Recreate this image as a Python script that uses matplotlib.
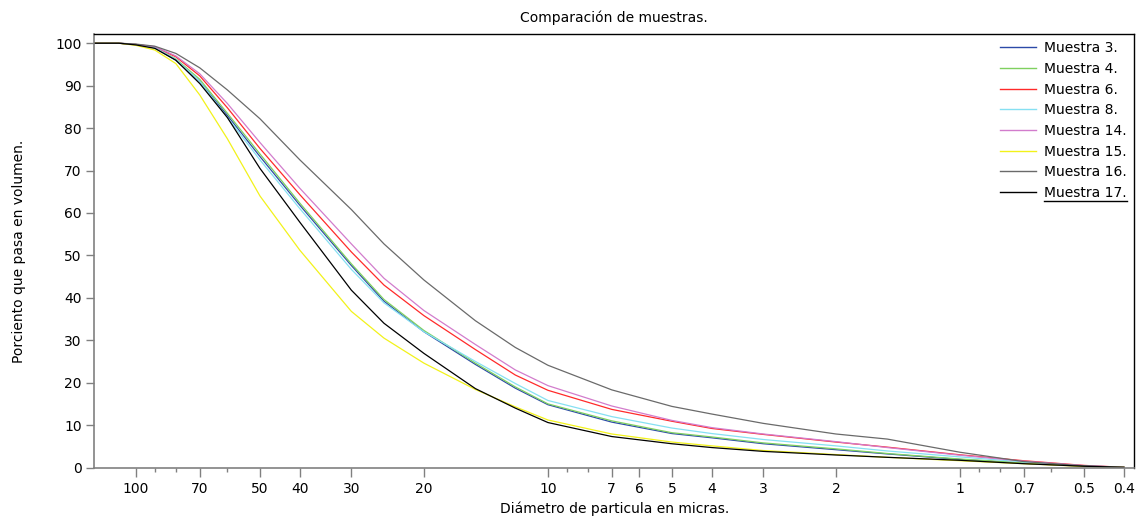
import matplotlib
matplotlib.use("Agg")
import matplotlib.pyplot as plt
from matplotlib.ticker import FixedLocator, FixedFormatter, NullFormatter
from matplotlib.lines import Line2D

plt.rcParams['font.family'] = ['DejaVu Sans']

# Particle diameter (microns), descending
diametro = [126, 110, 100, 90, 80, 70, 60, 50, 40, 30, 25, 20, 15, 12, 10,
            7, 5, 4, 3, 2, 1.5, 1, 0.7, 0.5, 0.4]

# Cumulative percent passing for each sample
muestra_3 = [100, 100, 99.7, 98.9, 96.0, 91.0, 83.0, 73.3, 61.8, 47.6, 39.2, 32.0, 24.3, 18.7, 14.8,
             10.7, 8.0, 7.0, 5.6, 4.2, 3.2, 1.9, 1.0, 0.3, 0.05]
muestra_4 = [100, 100, 99.7, 99.0, 96.3, 91.5, 83.5, 73.9, 62.3, 48.0, 39.6, 32.3, 24.6, 19.0, 15.0,
             11.0, 8.2, 7.2, 5.8, 4.4, 3.3, 2.0, 1.1, 0.35, 0.05]
muestra_6 = [100, 100, 99.7, 99.1, 96.8, 92.3, 84.8, 75.2, 64.3, 50.8, 43.0, 35.8, 27.8, 21.8, 18.2,
             13.7, 10.9, 9.2, 7.8, 6.0, 4.8, 3.0, 1.6, 0.5, 0.05]
muestra_8 = [100, 100, 99.7, 99.0, 96.2, 91.0, 82.5, 72.5, 61.0, 46.7, 38.8, 32.0, 25.0, 19.8, 15.8,
             12.0, 9.3, 8.0, 6.6, 5.1, 3.9, 2.5, 1.3, 0.4, 0.05]
muestra_14 = [100, 100, 99.7, 99.2, 97.0, 92.8, 85.8, 76.6, 65.8, 52.7, 44.6, 37.0, 29.0, 23.0, 19.3,
              14.5, 11.1, 9.4, 7.9, 6.1, 4.7, 2.9, 1.5, 0.45, 0.05]
muestra_15 = [100, 100, 99.5, 98.4, 95.2, 87.8, 77.5, 64.0, 51.2, 36.8, 30.5, 24.6, 18.4, 14.3, 11.2,
              7.9, 6.0, 5.1, 4.0, 3.05, 2.4, 1.6, 0.9, 0.25, 0.05]
muestra_16 = [100, 100, 99.8, 99.3, 97.6, 94.2, 89.0, 82.2, 72.5, 60.8, 52.7, 44.2, 34.6, 28.3, 24.1,
              18.3, 14.4, 12.6, 10.4, 7.9, 6.7, 3.6, 1.4, 0.4, 0.05]
muestra_17 = [100, 100, 99.6, 98.8, 96.0, 90.5, 82.5, 70.5, 57.8, 41.8, 34.0, 26.9, 18.6, 14.0, 10.6,
              7.3, 5.6, 4.7, 3.8, 2.95, 2.4, 1.7, 0.9, 0.3, 0.05]

etiquetas = ["Muestra 3.", "Muestra 4.", "Muestra 6.", "Muestra 8.",
             "Muestra 14.", "Muestra 15.", "Muestra 16.", "Muestra 17."]
series = [muestra_3, muestra_4, muestra_6, muestra_8,
          muestra_14, muestra_15, muestra_16, muestra_17]
colores = ["#2c4aa8", "#7fd05f", "#ff2a2a", "#86e0f2",
           "#d27ccc", "#f2f21a", "#6a6a6a", "#000000"]

ticks_mayores = [100, 70, 50, 40, 30, 20, 10, 7, 6, 5, 4, 3, 2, 1, 0.7, 0.5, 0.4]
ticks_menores = [90, 80, 60, 9, 8, 0.9, 0.8, 0.6]
etiquetas_x = ["100", "70", "50", "40", "30", "20", "10", "7", "6", "5", "4", "3",
               "2", "1", "0.7", "0.5", "0.4"]

fig = plt.figure(figsize=(11.43, 5.23), dpi=100)
ax = fig.add_axes([0.0825, 0.1061, 0.9096, 0.8283])

for y, lab, c in zip(series, etiquetas, colores):
    ax.plot(diametro, y, color=c, lw=0.9, label=lab)

ax.set_xscale('log')
ax.set_xlim(126.2, 0.378)
ax.set_ylim(0, 102.1)

ax.xaxis.set_major_locator(FixedLocator(ticks_mayores))
ax.xaxis.set_major_formatter(FixedFormatter(etiquetas_x))
ax.xaxis.set_minor_locator(FixedLocator(ticks_menores))
ax.xaxis.set_minor_formatter(NullFormatter())
ax.set_yticks(range(0, 101, 10))

gris = "#808080"
ax.tick_params(axis='both', which='major', direction='out', color=gris,
               labelsize=10, width=1.0)
ax.tick_params(axis='x', which='major', length=6.5, pad=4)
ax.tick_params(axis='x', which='minor', length=3, color=gris, width=1.0)
ax.tick_params(axis='y', which='major', length=6, pad=3)

for lado in ('left', 'bottom'):
    ax.spines[lado].set_color(gris)
    ax.spines[lado].set_linewidth(1.2)
for lado in ('top', 'right'):
    ax.spines[lado].set_color('black')
    ax.spines[lado].set_linewidth(1.0)

ax.set_title("Comparación de muestras.", fontsize=10, pad=9)
ax.set_xlabel("Diámetro de particula en micras.", fontsize=10, labelpad=4)
ax.set_ylabel("Porciento que pasa en volumen.", fontsize=10, labelpad=21)

leg = ax.legend(loc='upper right', frameon=False, fontsize=10,
                handlelength=2.6, handletextpad=0.6, labelspacing=0.48,
                borderaxespad=0.1, bbox_to_anchor=(1.0, 1.0))
for h in leg.get_lines():
    h.set_linewidth(1.0)

# underline beneath the last legend entry
fig.canvas.draw()
bb = leg.get_texts()[-1].get_window_extent().transformed(fig.transFigure.inverted())
y_sub = bb.y0 - 1.5 / fig.bbox.height
fig.add_artist(Line2D([bb.x0, bb.x1], [y_sub, y_sub], transform=fig.transFigure,
                      color='black', lw=1.0))

fig.savefig("out.png", dpi=100)
